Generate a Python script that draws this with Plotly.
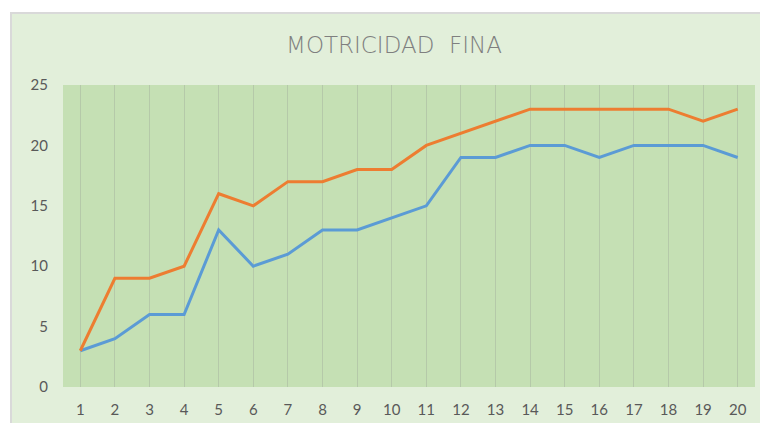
import plotly.graph_objects as go

categories = list(range(1, 21))
serie_naranja = [3, 9, 9, 10, 16, 15, 17, 17, 18, 18, 20, 21, 22, 23, 23, 23, 23, 23, 22, 23]
serie_azul = [3, 4, 6, 6, 13, 10, 11, 13, 13, 14, 15, 19, 19, 20, 20, 19, 20, 20, 20, 19]
y_ticks = [0, 5, 10, 15, 20, 25]

# page body has an 8px margin; compensate by shifting everything up/left
OFF = 8
W, H = 768 - OFF, 423 - OFF
L, R, T, B = 63 - OFF, 13, 85 - OFF, 36
pw, ph = W - L - R, H - T - B

fig = go.Figure()
fig.add_trace(go.Scatter(x=categories, y=serie_azul, mode="lines",
                         line=dict(color="#5b9bd5", width=3), showlegend=False))
fig.add_trace(go.Scatter(x=categories, y=serie_naranja, mode="lines",
                         line=dict(color="#ed7d31", width=3), showlegend=False))

def px(x):
    return (x - OFF - L) / pw

def py(y):
    return (H - B - (y - OFF)) / ph

# outer chart area
fig.add_shape(type="rect", xref="paper", yref="paper", layer="below",
              x0=px(11), x1=px(790), y0=py(440), y1=py(13),
              fillcolor="#e2efda", line=dict(color="#d9d9d9", width=2))
# plot area
fig.add_shape(type="rect", xref="x domain", yref="y domain", layer="below",
              x0=0, x1=1, y0=0, y1=1,
              fillcolor="#c5e0b4", line=dict(width=0))

fig.update_layout(
    width=W, height=H,
    margin=dict(l=L, r=R, t=T, b=B, autoexpand=False),
    paper_bgcolor="white",
    plot_bgcolor="#c5e0b4",
    title=dict(text="MOTRICIDAD  FINA", xref="container", x=(394 - OFF) / W,
               xanchor="center", yref="container",
               y=1 - (45 - OFF) / H, yanchor="middle",
               font=dict(family="DejaVu Sans", size=23, weight=300, color="#7f7f7f")),
    xaxis=dict(range=[0.5, 20.5], tickmode="array", tickvals=categories,
               ticktext=[str(c) for c in categories], automargin=False,
               showgrid=True, gridcolor="#b5c9a9", gridwidth=1,
               zeroline=False, showline=False, ticks="",
               ticklabelstandoff=12,
               tickfont=dict(family="Lato", size=15, color="#595959")),
    yaxis=dict(range=[0, 25], tickmode="array", tickvals=y_ticks, automargin=False,
               showgrid=False, zeroline=False, showline=False, ticks="",
               ticklabelstandoff=14,
               tickfont=dict(family="Lato", size=15, color="#595959")),
)

fig.write_html("out.html")
